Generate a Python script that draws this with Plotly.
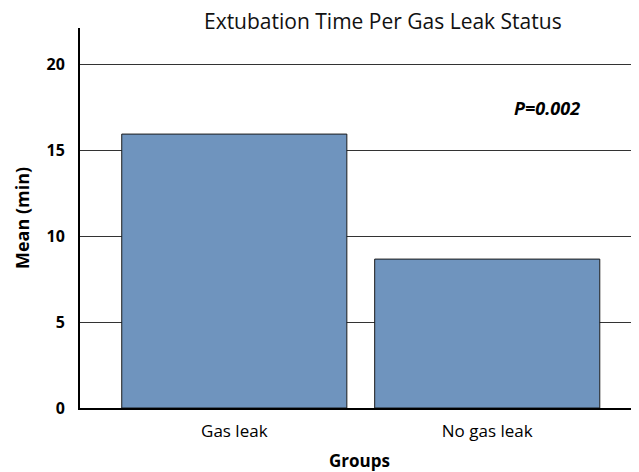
import plotly.graph_objects as go

categories = ["Gas leak", "No gas leak"]
means = [15.93, 8.66]
y_ticks = [0, 5, 10, 15, 20]
p_label = "P=0.002"

fig = go.Figure()
fig.add_trace(go.Bar(
    x=categories, y=means, width=0.89,
    marker=dict(color="#6F94BE", line=dict(color="#1a1a1a", width=1)),
))

fig.add_annotation(x=1.235, y=17.45, xref="x", yref="y", text="<b><i>" + p_label + "</i></b>",
                   showarrow=False, font=dict(size=18, color="black", family="Open Sans"))

fig.update_layout(
    width=631, height=464,
    margin=dict(l=72, r=0, t=20, b=64),
    paper_bgcolor="white", plot_bgcolor="white",
    showlegend=False,
    font=dict(family="Open Sans", color="black"),
    title=dict(text="Extubation Time Per Gas Leak Status", x=0.594, xanchor="center",
               y=0.97, yanchor="middle", font=dict(size=21, family="Open Sans", color="#111")),
    xaxis=dict(range=[-0.61, 1.6], showgrid=False, showline=True, linecolor="black", linewidth=2,
               ticks="", tickfont=dict(size=17, family="Open Sans"), ticklabelstandoff=7,
               title=dict(text="<b>Groups</b>", font=dict(size=17, family="Open Sans"), standoff=15)),
    yaxis=dict(range=[0, 22.1], tickvals=y_ticks, ticktext=["<b>%d</b>" % v for v in y_ticks],
               showgrid=True, gridcolor="#333", gridwidth=1, zeroline=False,
               showline=True, linecolor="black", linewidth=2, ticks="",
               tickfont=dict(size=16, family="Open Sans"), ticklabelstandoff=10,
               title=dict(text="<b>Mean (min)</b>", font=dict(size=18, family="Open Sans"), standoff=12)),
    bargap=0.11,
)

fig.write_html("out.html")
